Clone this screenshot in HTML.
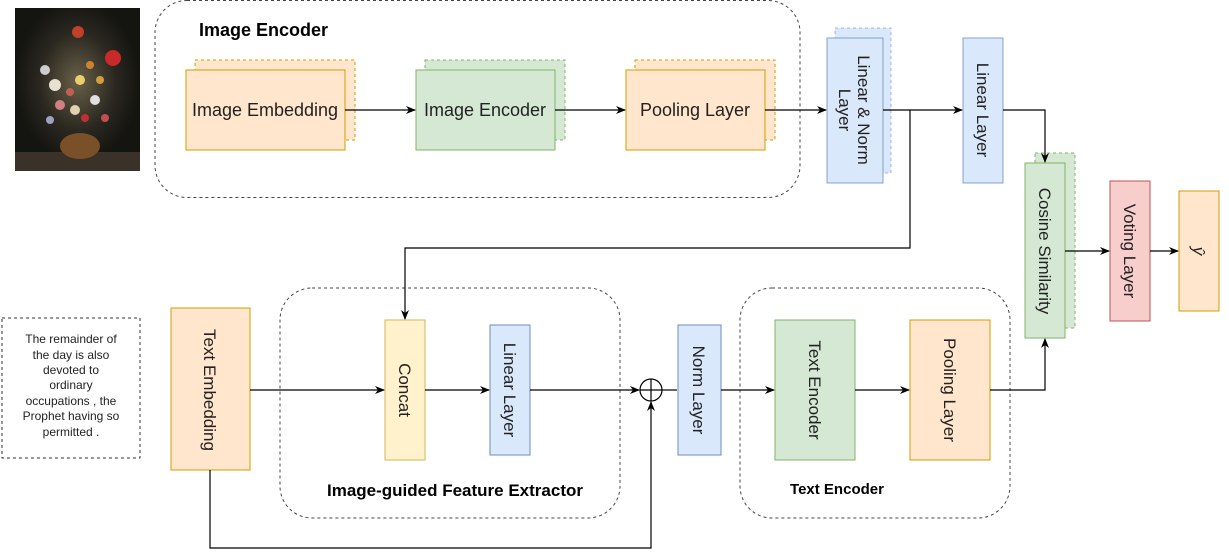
<!DOCTYPE html>
<html><head><style>body{margin:0;background:#fff}svg{display:block}text{font-family:"Liberation Sans",sans-serif}</style></head><body>
<svg width="1229" height="557" viewBox="0 0 1229 557" xmlns="http://www.w3.org/2000/svg">
<defs><marker id="a" markerWidth="10" markerHeight="10" refX="9" refY="5" orient="auto" markerUnits="userSpaceOnUse"><path d="M0,1 L10,5 L0,9 L3,5 z" fill="#000"/></marker>
<radialGradient id="g" cx="50%" cy="45%" r="50%"><stop offset="0" stop-color="#6a6048"/><stop offset="0.6" stop-color="#2a2820"/><stop offset="1" stop-color="#141410"/></radialGradient></defs>
<!-- painting -->
<rect x="15" y="8" width="125" height="163" fill="url(#g)"/>
<rect x="15" y="152" width="125" height="19" fill="#3a3228"/>
<ellipse cx="80" cy="146" rx="20" ry="13" fill="#7a5028"/>
<circle cx="78" cy="32" r="6" fill="#c0402a"/><circle cx="113" cy="58" r="8" fill="#c82a2a"/>
<circle cx="45" cy="70" r="5" fill="#ccc"/><circle cx="55" cy="85" r="6" fill="#e8e0d0"/><circle cx="80" cy="80" r="5" fill="#e8d070"/><circle cx="60" cy="105" r="5" fill="#d08080"/><circle cx="95" cy="100" r="5" fill="#e0e0e0"/><circle cx="85" cy="118" r="4" fill="#c03030"/><circle cx="70" cy="92" r="4" fill="#c06050"/><circle cx="100" cy="80" r="4" fill="#d0a040"/><circle cx="75" cy="110" r="5" fill="#e0d0b0"/><circle cx="105" cy="118" r="4" fill="#c05050"/><circle cx="50" cy="120" r="4" fill="#a0a0c0"/><circle cx="90" cy="65" r="4" fill="#d08030"/>
<!-- Image encoder container -->
<rect x="155" y="0.5" width="645" height="197" rx="32" fill="none" stroke="#444" stroke-dasharray="3,3"/>
<text x="199" y="36" font-size="18" font-weight="bold">Image Encoder</text>
<rect x="195" y="60" width="160" height="80" fill="#ffe6cc" stroke="#d79b00" stroke-dasharray="3,3"/>
<rect x="186" y="70" width="159" height="80" fill="#ffe6cc" stroke="#d79b00"/>
<rect x="425" y="60" width="140" height="80" fill="#d5e8d4" stroke="#82b366" stroke-dasharray="3,3"/>
<rect x="416" y="70" width="139" height="80" fill="#d5e8d4" stroke="#82b366"/>
<rect x="635" y="60" width="140" height="80" fill="#ffe6cc" stroke="#d79b00" stroke-dasharray="3,3"/>
<rect x="626" y="70" width="139" height="80" fill="#ffe6cc" stroke="#d79b00"/>
<g font-size="18" fill="#222" text-anchor="middle">
<text x="265" y="116">Image Embedding</text>
<text x="485" y="116">Image Encoder</text>
<text x="695" y="116">Pooling Layer</text>
</g>
<!-- right column boxes -->
<rect x="835" y="28" width="56" height="145" fill="#dae8fc" stroke="#6c8ebf" stroke-dasharray="3,3" stroke-opacity="0.6"/>
<rect x="827" y="38" width="56" height="145" fill="#dae8fc" stroke="#6c8ebf" stroke-opacity="0.8"/>
<rect x="963" y="38" width="40" height="145" fill="#dae8fc" stroke="#6c8ebf" stroke-opacity="0.8"/>
<rect x="1035" y="153" width="40" height="175" fill="#d5e8d4" stroke="#82b366" stroke-dasharray="3,3"/>
<rect x="1025" y="163" width="40" height="175" fill="#d5e8d4" stroke="#82b366"/>
<rect x="1110" y="181" width="40" height="140" fill="#f8cecc" stroke="#b85450"/>
<rect x="1179" y="191" width="40" height="120" fill="#ffe6cc" stroke="#d79b00"/>
<g font-size="17" fill="#222" text-anchor="middle">
<text transform="translate(855,110) rotate(90)" y="-3">Linear &amp; Norm</text>
<text transform="translate(855,110) rotate(90)" y="16">Layer</text>
<text transform="translate(983,110) rotate(90)" y="6">Linear Layer</text>
<text transform="translate(1045,251) rotate(90)" y="6">Cosine Similarity</text>
<text transform="translate(1130,251) rotate(90)" y="6">Voting Layer</text>
<text transform="translate(1199,251) rotate(90)" y="6" font-style="italic" font-family="Liberation Serif">ŷ</text>
</g>
<!-- bottom -->
<rect x="2" y="318" width="138" height="140" fill="none" stroke="#333" stroke-dasharray="3,3"/>
<g font-size="12" fill="#222" text-anchor="middle">
<text x="71" y="343">The remainder of</text>
<text x="71" y="359">the day is also</text>
<text x="71" y="374">devoted to</text>
<text x="71" y="389">ordinary</text>
<text x="71" y="405">occupations , the</text>
<text x="71" y="420">Prophet having so</text>
<text x="71" y="436">permitted .</text>
</g>
<rect x="280" y="288" width="340" height="230" rx="32" fill="none" stroke="#444" stroke-dasharray="3,3"/>
<rect x="740" y="288" width="270" height="230" rx="32" fill="none" stroke="#444" stroke-dasharray="3,3"/>
<rect x="171" y="308" width="79" height="162" fill="#ffe6cc" stroke="#d79b00"/>
<rect x="385" y="320" width="40" height="140" fill="#fff2cc" stroke="#d6b656"/>
<rect x="490" y="325" width="40" height="130" fill="#dae8fc" stroke="#6c8ebf"/>
<rect x="678" y="325" width="43" height="130" fill="#dae8fc" stroke="#6c8ebf"/>
<rect x="775" y="320" width="80" height="140" fill="#d5e8d4" stroke="#82b366"/>
<rect x="910" y="320" width="80" height="140" fill="#ffe6cc" stroke="#d79b00"/>
<g font-size="17" fill="#222" text-anchor="middle">
<text transform="translate(210,390) rotate(90)" y="6">Text Embedding</text>
<text transform="translate(405,390) rotate(90)" y="6">Concat</text>
<text transform="translate(510,390) rotate(90)" y="6">Linear Layer</text>
<text transform="translate(699,390) rotate(90)" y="6">Norm Layer</text>
<text transform="translate(815,390) rotate(90)" y="6">Text Encoder</text>
<text transform="translate(950,390) rotate(90)" y="6">Pooling Layer</text>
</g>
<text x="455" y="496" font-size="17" font-weight="bold" text-anchor="middle">Image-guided Feature Extractor</text>
<text x="837" y="494" font-size="15" font-weight="bold" text-anchor="middle">Text Encoder</text>
<!-- connectors -->
<g stroke="#000" fill="none" stroke-width="1.2">
<path d="M345,110 H415" marker-end="url(#a)"/>
<path d="M555,110 H625" marker-end="url(#a)"/>
<path d="M765,110 H826" marker-end="url(#a)"/>
<path d="M883,110 H962" marker-end="url(#a)"/>
<path d="M910,110 V248 H405 V319" marker-end="url(#a)"/>
<path d="M1003,110 H1045 V162" marker-end="url(#a)"/>
<path d="M1065,251 H1109" marker-end="url(#a)"/>
<path d="M1150,251 H1178" marker-end="url(#a)"/>
<path d="M250,390 H384" marker-end="url(#a)"/>
<path d="M425,390 H489" marker-end="url(#a)"/>
<path d="M530,390 H639" marker-end="url(#a)"/>
<path d="M662,390 H677"/>
<path d="M721,390 H774" marker-end="url(#a)"/>
<path d="M855,390 H909" marker-end="url(#a)"/>
<path d="M990,390 H1045 V339" marker-end="url(#a)"/>
<path d="M210,470 V548 H651 V402" marker-end="url(#a)"/>
</g>
<circle cx="651" cy="390" r="11" fill="#fff" stroke="#000" stroke-width="1.2"/>
<path d="M640,390 H662 M651,379 V401" stroke="#000" stroke-width="1.2"/>
</svg>
</body></html>
